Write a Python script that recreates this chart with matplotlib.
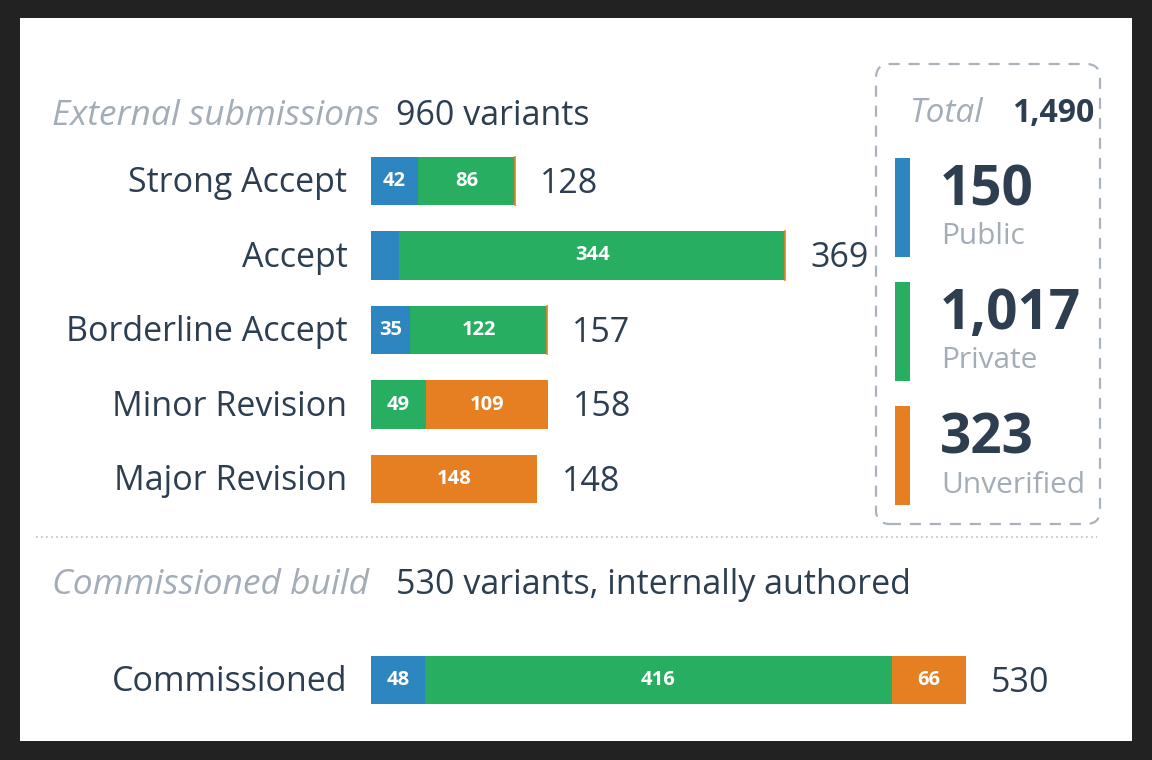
import matplotlib.pyplot as plt
from matplotlib.patches import Rectangle, FancyBboxPatch
from matplotlib.lines import Line2D

plt.rcParams['font.family'] = ['Open Sans', 'DejaVu Sans']

W, H = 1152, 760

categories = ["Strong Accept", "Accept", "Borderline Accept", "Minor Revision", "Major Revision"]
public = [42, 25, 35, 0, 0]
private = [86, 344, 122, 49, 0]
unverified = [0, 0, 0, 109, 148]

comm_label = ["Commissioned"]
comm_public = [48]
comm_private = [416]
comm_unverified = [66]

legend_names = ["Public", "Private", "Unverified"]
legend_totals = [150, 1017, 323]
grand_total = 1490
external_count = 960
commissioned_count = 530

BLUE = "#2e86c1"
GREEN = "#27ae60"
ORANGE = "#e67e22"
DARK = "#2c3e50"
GREY = "#a3adb8"
COLORS = [BLUE, GREEN, ORANGE]

PX_PER_UNIT = 1.1225
ROW_PX = 74.5
BIG = 24.5


def fx(px):
    return px / W


def fy(py):
    return 1 - py / H


fig = plt.figure(figsize=(W / 100, H / 100), dpi=100, facecolor="#222222")
fig.patches.append(Rectangle((fx(20), fy(741)), fx(1112), 723 / H,
                             transform=fig.transFigure, facecolor="white",
                             edgecolor="none", zorder=-5))


def bar_axes(top_px, nrows):
    left = 371
    width = 761
    ax = fig.add_axes([fx(left), fy(top_px + nrows * ROW_PX), fx(width), nrows * ROW_PX / H])
    ax.set_xlim(0, width / PX_PER_UNIT)
    ax.set_ylim(nrows - 0.5, -0.5)
    ax.axis("off")
    ax.patch.set_alpha(0)
    return ax


def draw_rows(ax, labels, segs, height):
    for i, lab in enumerate(labels):
        left = 0
        for vals, col in zip(segs, COLORS):
            v = vals[i]
            if v == 0:
                if col == ORANGE and left > 0:
                    ax.plot([left, left], [i - height / 2, i + height / 2], color=ORANGE, lw=1.2)
                continue
            ax.barh(i, v, left=left, height=height, color=col, linewidth=0)
            if v >= 30:
                ax.text(left + v / 2, i, str(v), ha="center", va="center", color="white",
                        fontsize=14.5, fontweight="bold")
            left += v
        ax.annotate(str(left), (left, i), xytext=(18, -2), textcoords="offset points",
                    ha="left", va="center", fontsize=BIG, color=DARK)
        ax.annotate(lab, (0, i), xytext=(-17, -1.5), textcoords="offset points",
                    ha="right", va="center", fontsize=BIG, color=DARK, annotation_clip=False)


ax1 = bar_axes(330 - 2.5 * ROW_PX, len(categories))
draw_rows(ax1, categories, [public, private, unverified], 0.645)

ax2 = bar_axes(680 - 0.5 * ROW_PX, 1)
draw_rows(ax2, comm_label, [comm_public, comm_private, comm_unverified], 0.635)

# section headers
fig.text(fx(52), fy(116), "External submissions", style="italic", color=GREY,
         fontsize=25.5, va="center", ha="left")
fig.text(fx(396), fy(116), f"{external_count} variants", color=DARK,
         fontsize=BIG, va="center", ha="left")
fig.text(fx(52), fy(585), "Commissioned build", style="italic", color=GREY,
         fontsize=25.5, va="center", ha="left")
fig.text(fx(396), fy(585), f"{commissioned_count} variants, internally authored", color=DARK,
         fontsize=BIG, va="center", ha="left")

# dotted separator
fig.lines.append(Line2D([fx(36), fx(1097)], [fy(537), fy(537)], transform=fig.transFigure,
                        color="#b8c0c8", lw=1.2, linestyle=(0, (1, 2))))

# totals panel
fig.patches.append(FancyBboxPatch((fx(876), fy(524)), fx(224), 460 / H,
                                  boxstyle="round,pad=0,rounding_size=0.012",
                                  transform=fig.transFigure, facecolor="none",
                                  edgecolor="#aab3bc", lw=1.6, linestyle=(0, (5, 4)),
                                  mutation_aspect=W / H))
fig.text(fx(1094), fy(114), f"{grand_total:,}", color=DARK, fontsize=23,
         fontweight="bold", ha="right", va="center")
fig.text(fx(984), fy(114), "Total", color=GREY, fontsize=24, style="italic",
         ha="right", va="center")

for k, (name, tot, col) in enumerate(zip(legend_names, legend_totals, COLORS)):
    top = 158 + k * 124
    fig.patches.append(Rectangle((fx(895), fy(top + 99)), fx(15), 99 / H,
                                 transform=fig.transFigure, facecolor=col, edgecolor="none"))
    fig.text(fx(940), fy(top + 33), f"{tot:,}", color=DARK, fontsize=39.5,
             fontweight="bold", ha="left", va="center")
    fig.text(fx(941), fy(top + 79), name, color=GREY, fontsize=21.5,
             ha="left", va="center")

fig.savefig("out.png", dpi=100, facecolor=fig.get_facecolor())
